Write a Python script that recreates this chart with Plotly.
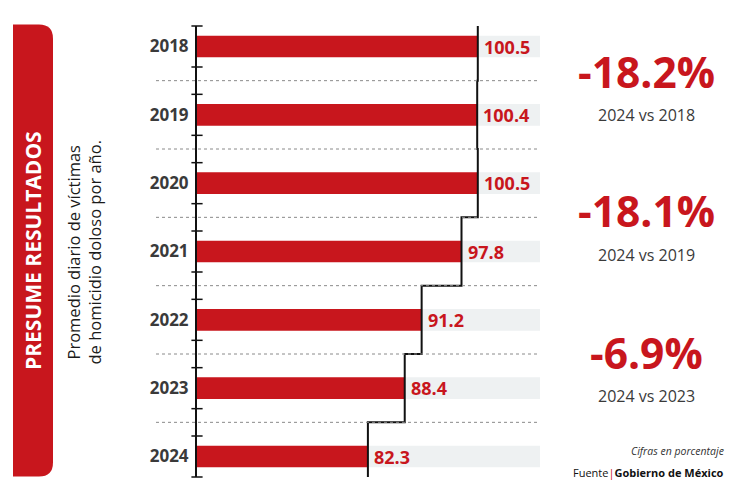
import plotly.graph_objects as go

years = ["2018", "2019", "2020", "2021", "2022", "2023", "2024"]
values = [100.5, 100.4, 100.5, 97.8, 91.2, 88.4, 82.3]
changes = ["-18.2%", "-18.1%", "-6.9%"]
comparisons = ["2024 vs 2018", "2024 vs 2019", "2024 vs 2023"]

RED = "#c8161d"
DARK = "#3a3a3a"
FONT = "Open Sans"
W, H = 750, 499
L, R, T, B = 197, 540, 25.5, 477.5
X_MIN, X_MAX = 54, 110.8
Y_TOP, Y_BOT = -0.3, 6.3
BAR_W = 0.317

def px(p):
    return (p - L) / (R - L)

def py(p):
    return (B - p) / (B - T)

idx = list(range(len(years)))

fig = go.Figure()

# bars
fig.add_trace(go.Bar(x=values, y=idx, orientation="h", width=BAR_W,
                     marker=dict(color=RED, line_width=0), hoverinfo="skip"))

# step line
step_x = [values[0]] + values + [values[-1]]
step_y = [Y_TOP] + idx + [Y_BOT]
fig.add_trace(go.Scatter(x=step_x, y=step_y, mode="lines",
                         line=dict(color="#111111", width=2, shape="vhv"),
                         hoverinfo="skip"))

# axis tick marks
tick_y = [i + d for i in idx for d in (-0.3, 0.3)]
fig.add_trace(go.Scatter(x=[X_MIN] * len(tick_y), y=tick_y, mode="markers",
                         marker=dict(symbol="line-ew", size=8,
                                     line=dict(color="#111111", width=1.5)),
                         cliponaxis=False, hoverinfo="skip"))

# gray bands, labels and separators
for i, v in enumerate(values):
    fig.add_shape(type="rect", xref="x", yref="y", x0=v, x1=X_MAX,
                  y0=i - BAR_W / 2, y1=i + BAR_W / 2,
                  fillcolor="#eef1f2", line_width=0, layer="below")
    fig.add_annotation(x=v, y=i, text=f"<b>{v:.1f}</b>", xanchor="left", xshift=4,
                       yanchor="middle", showarrow=False,
                       font=dict(family=FONT, size=18, color=RED))
for i in idx[:-1]:
    fig.add_shape(type="line", xref="paper", yref="y", x0=px(156), x1=1,
                  y0=i + 0.5, y1=i + 0.5,
                  line=dict(color="#8a8a8a", width=1, dash="dot"))

# left banner
fig.add_shape(type="path", xref="paper", yref="paper", xsizemode="pixel",
              ysizemode="pixel", xanchor=0, yanchor=0,
              path="M -184,0.5 L -158,0.5 Q -144,0.5 -144,14.5 L -144,438.5 "
                   "Q -144,452.5 -158,452.5 L -184,452.5 Z",
              fillcolor=RED, line_width=0)

def note(x, y, text, size, color, xanchor="center", yanchor="middle", angle=0,
         align="center"):
    fig.add_annotation(xref="paper", yref="paper", x=px(x), y=py(y), text=text,
                       xanchor=xanchor, yanchor=yanchor, textangle=angle,
                       align=align, showarrow=False,
                       font=dict(family=FONT, size=size, color=color))

note(33, 251, "<b>PRESUME RESULTADOS</b>", 21, "white", angle=-90)
note(84, 252.5, "Promedio diario de víctimas<br>de homicidio doloso por año.",
     16.5, "#1a1a1a", angle=-90)

# right side summaries
split_y = [101.5, 241.3, 383]
for c, s, sy in zip(changes, comparisons, split_y):
    note(646, sy, f"<b>{c}</b>", 42.5, RED, yanchor="bottom")
    note(646.5, sy + 0.5, s, 16, DARK, yanchor="top")

note(726, 451, "<i>Cifras en porcentaje</i>", 10.5, "#333333", xanchor="right")
note(726, 473, f"Fuente<span style='color:{RED}'>|</span><b>Gobierno de México</b>",
     11, "#111111", xanchor="right")

fig.update_layout(
    width=W, height=H,
    margin=dict(l=L, r=W - R, t=T, b=H - B, pad=0),
    paper_bgcolor="white", plot_bgcolor="white",
    showlegend=False, barmode="overlay",
    xaxis=dict(range=[X_MIN, X_MAX], visible=False, fixedrange=True),
    yaxis=dict(range=[Y_BOT, Y_TOP], tickmode="array", tickvals=idx, ticktext=years,
               showline=True, linecolor="#111111", linewidth=2, showgrid=False,
               zeroline=False, ticks="", ticklabelstandoff=3, fixedrange=True,
               tickfont=dict(family=FONT, size=17, color=DARK, weight="bold")),
)

fig.write_html("out.html", config={"displayModeBar": False},
               post_script="document.body.style.margin='0';")
